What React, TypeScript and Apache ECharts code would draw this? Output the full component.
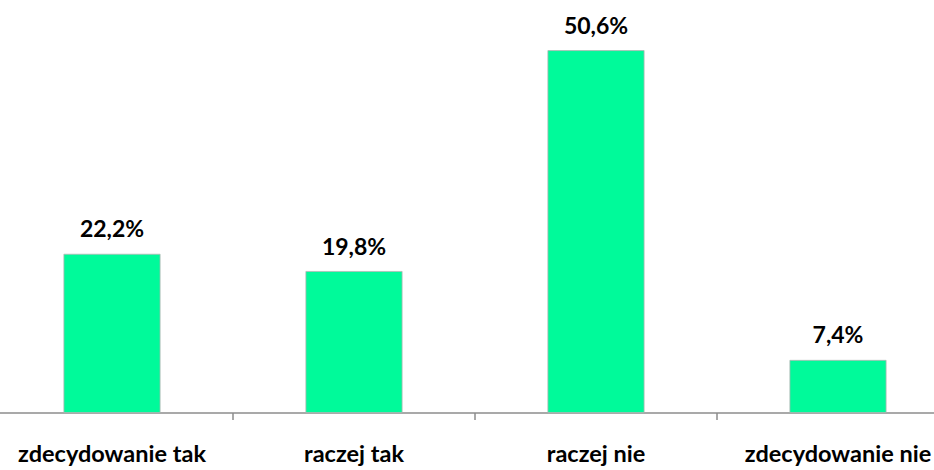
import React, { useEffect, useRef } from "react";
import * as echarts from "echarts";

const categories = ["zdecydowanie tak", "raczej tak", "raczej nie", "zdecydowanie nie"];
const values = [22.2, 19.8, 50.6, 7.4];

export default function App() {
  const ref = useRef<HTMLDivElement>(null);
  useEffect(() => {
    const chart = echarts.init(ref.current!, null, { renderer: "svg" });
    chart.setOption({
      animation: false,
      grid: { left: -9, width: 968, top: 0, height: 413, outerBoundsMode: "none", containLabel: false },
      xAxis: {
        type: "category",
        data: categories,
        axisLine: { lineStyle: { color: "#8c8c8c", width: 1.5 } },
        axisTick: { show: true, length: 7, lineStyle: { color: "#8c8c8c", width: 1.5 } },
        axisLabel: {
          margin: 28,
          fontFamily: "Lato",
          fontWeight: "bold",
          fontSize: 23.5,
          color: "#000",
          interval: 0,
          hideOverlap: false,
        },
      },
      yAxis: {
        type: "value",
        min: 0,
        max: 57.6,
        show: false,
        splitLine: { show: false },
      },
      series: [
        {
          type: "bar",
          data: values,
          barWidth: 97,
          itemStyle: { color: "#00fa9a", borderColor: "#b5b5b5", borderWidth: 0.8 },
          label: {
            show: true,
            position: "top",
            distance: 14,
            fontFamily: "Lato",
            fontWeight: "bold",
            fontSize: 23,
            color: "#000",
            formatter: (p: any) => p.value.toFixed(1).replace(".", ",") + "%",
          },
        },
      ],
    });
    return () => chart.dispose();
  }, []);
  return <div ref={ref} style={{ width: 934, height: 470, position: "absolute", left: 0, top: 0 }} />;
}
